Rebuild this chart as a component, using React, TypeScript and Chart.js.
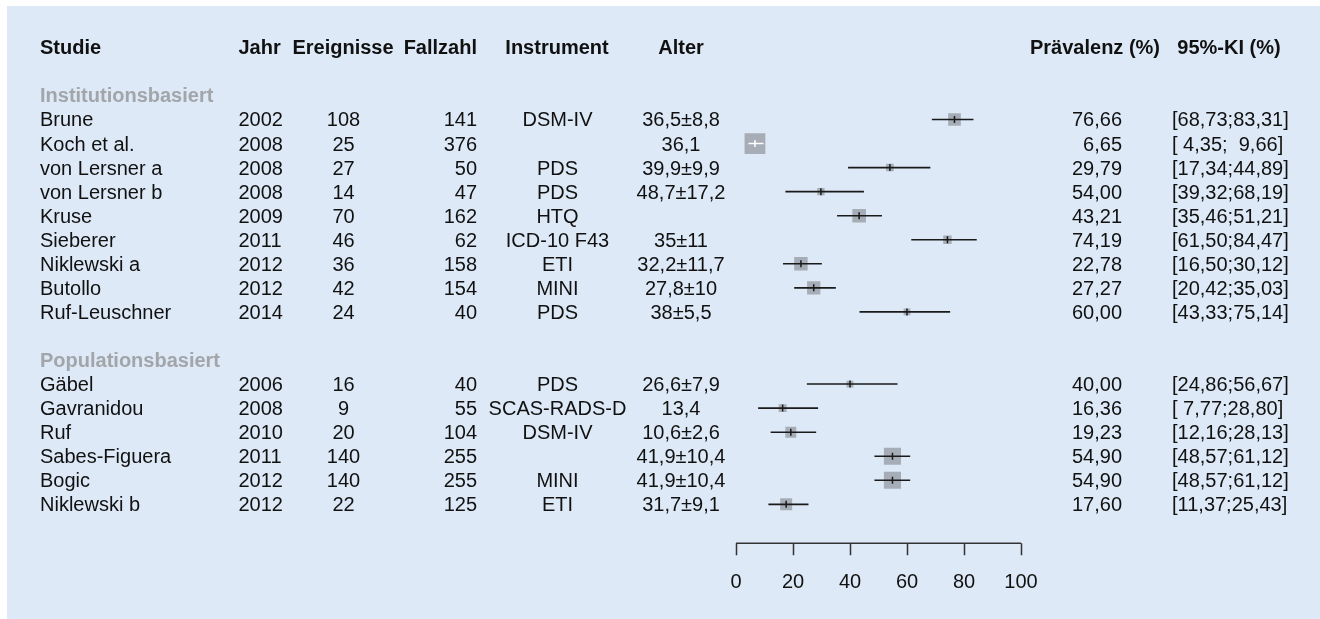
import React, { useEffect, useRef } from 'react';
import { Chart, registerables } from 'chart.js';
Chart.register(...registerables);

// ---------- data ----------
const headers = ['Studie', 'Jahr', 'Ereignisse', 'Fallzahl', 'Instrument', 'Alter', 'Prävalenz (%)', '95%-KI (%)'];
const groupLabels = ['Institutionsbasiert', 'Populationsbasiert'];
const groupSizes = [9, 6];

const studies = ['Brune', 'Koch et al.', 'von Lersner a', 'von Lersner b', 'Kruse', 'Sieberer', 'Niklewski a', 'Butollo', 'Ruf-Leuschner',
  'Gäbel', 'Gavranidou', 'Ruf', 'Sabes-Figuera', 'Bogic', 'Niklewski b'];
const years = [2002, 2008, 2008, 2008, 2009, 2011, 2012, 2012, 2014, 2006, 2008, 2010, 2011, 2012, 2012];
const events = [108, 25, 27, 14, 70, 46, 36, 42, 24, 16, 9, 20, 140, 140, 22];
const cases = [141, 376, 50, 47, 162, 62, 158, 154, 40, 40, 55, 104, 255, 255, 125];
const instruments = ['DSM-IV', '', 'PDS', 'PDS', 'HTQ', 'ICD-10 F43', 'ETI', 'MINI', 'PDS', 'PDS', 'SCAS-RADS-D', 'DSM-IV', '', 'MINI', 'ETI'];
const ages = ['36,5±8,8', '36,1', '39,9±9,9', '48,7±17,2', '', '35±11', '32,2±11,7', '27,8±10', '38±5,5',
  '26,6±7,9', '13,4', '10,6±2,6', '41,9±10,4', '41,9±10,4', '31,7±9,1'];
const prevalenceText = ['76,66', '6,65', '29,79', '54,00', '43,21', '74,19', '22,78', '27,27', '60,00',
  '40,00', '16,36', '19,23', '54,90', '54,90', '17,60'];
const ciText = ['[68,73;83,31]', '[ 4,35;  9,66]', '[17,34;44,89]', '[39,32;68,19]', '[35,46;51,21]', '[61,50;84,47]', '[16,50;30,12]', '[20,42;35,03]', '[43,33;75,14]',
  '[24,86;56,67]', '[ 7,77;28,80]', '[12,16;28,13]', '[48,57;61,12]', '[48,57;61,12]', '[11,37;25,43]'];

// plotted estimates (as drawn in the figure)
const estimates = [76.66, 6.65, 54.0, 29.79, 43.21, 74.19, 22.78, 27.27, 60.0, 40.0, 16.36, 19.23, 54.9, 54.9, 17.6];
const lower = [68.73, 4.35, 39.32, 17.34, 35.46, 61.5, 16.5, 20.42, 43.33, 24.86, 7.77, 12.16, 48.57, 48.57, 11.37];
const upper = [83.31, 9.66, 68.19, 44.89, 51.21, 84.47, 30.12, 35.03, 75.14, 56.67, 28.8, 28.13, 61.12, 61.12, 25.43];

const axisTicks = [0, 20, 40, 60, 80, 100];

// ---------- derived layout ----------
const studyRows: number[] = [];
const groupRows: number[] = [];
(() => {
  let cur = -1;
  let idx = 0;
  groupSizes.forEach((n) => {
    groupRows.push(cur);
    cur++;
    for (let i = 0; i < n; i++) {
      studyRows.push(cur);
      cur++;
      idx++;
    }
    cur++;
  });
})();
const HEADER_ROW = -3;

const PX_PER_UNIT = (1021 - 736) / 100;
const squareSide = cases.map((n) => 1.07 * Math.sqrt(n));
const inside = studies.map((_, i) => (upper[i] - lower[i]) * PX_PER_UNIT < squareSide[i]);

const FONT = '"Liberation Sans", Arial, Helvetica, sans-serif';

const colSpec: { x: number; align: CanvasTextAlign }[] = [
  { x: 40, align: 'left' },
  { x: 238.5, align: 'left' },
  { x: 343.5, align: 'center' },
  { x: 477, align: 'right' },
  { x: 557.5, align: 'center' },
  { x: 681, align: 'center' },
  { x: 1122, align: 'right' },
  { x: 1172, align: 'left' },
];
const headerSpec: { x: number; align: CanvasTextAlign }[] = [
  { x: 40, align: 'left' },
  { x: 238.5, align: 'left' },
  { x: 343, align: 'center' },
  { x: 477, align: 'right' },
  { x: 557, align: 'center' },
  { x: 681, align: 'center' },
  { x: 1095, align: 'center' },
  { x: 1229, align: 'center' },
];

const bgPlugin = {
  id: 'bgPanel',
  beforeDraw(chart: any) {
    const { ctx, width, height } = chart;
    ctx.save();
    ctx.fillStyle = '#ffffff';
    ctx.fillRect(0, 0, width, height);
    ctx.fillStyle = '#dde9f6';
    ctx.fillRect(7, 6, width - 7, height - 6);
    ctx.restore();
  },
};

const textPlugin = {
  id: 'forestText',
  afterDraw(chart: any) {
    const { ctx } = chart;
    const ys = chart.scales.y;
    const xs = chart.scales.x;
    const BL = 7;
    ctx.save();
    // header
    ctx.fillStyle = '#111';
    ctx.font = `bold 20px ${FONT}`;
    ctx.textBaseline = 'alphabetic';
    const hy = ys.getPixelForValue(HEADER_ROW) + BL;
    headers.forEach((h, i) => {
      ctx.textAlign = headerSpec[i].align;
      ctx.fillText(h, headerSpec[i].x, hy);
    });
    // group labels
    ctx.fillStyle = '#a2a5a9';
    ctx.textAlign = 'left';
    groupLabels.forEach((g, i) => {
      ctx.fillText(g, 40, ys.getPixelForValue(groupRows[i]) + BL);
    });
    // rows
    ctx.font = `20px ${FONT}`;
    ctx.fillStyle = '#111';
    studies.forEach((s, i) => {
      const y = ys.getPixelForValue(studyRows[i]) + BL;
      const vals = [s, String(years[i]), String(events[i]), String(cases[i]), instruments[i], ages[i], prevalenceText[i], ciText[i]];
      vals.forEach((v, c) => {
        if (!v) return;
        ctx.textAlign = colSpec[c].align;
        ctx.fillText(v, colSpec[c].x, y);
      });
    });
    // x axis
    const yb = chart.chartArea.bottom;
    ctx.strokeStyle = '#333';
    ctx.lineWidth = 1.5;
    ctx.beginPath();
    ctx.moveTo(xs.getPixelForValue(axisTicks[0]), yb);
    ctx.lineTo(xs.getPixelForValue(axisTicks[axisTicks.length - 1]), yb);
    axisTicks.forEach((t) => {
      const x = Math.round(xs.getPixelForValue(t)) + 0.5;
      ctx.moveTo(x, yb);
      ctx.lineTo(x, yb + 12);
    });
    ctx.stroke();
    ctx.textAlign = 'center';
    axisTicks.forEach((t) => {
      ctx.fillText(String(t), xs.getPixelForValue(t), yb + 44.5);
    });
    ctx.restore();
  },
};

export default function App() {
  const ref = useRef<HTMLCanvasElement | null>(null);
  useEffect(() => {
    document.body.style.margin = '0';
    const canvas = ref.current;
    if (!canvas) return;

    const squares = {
      type: 'scatter' as const,
      data: studies.map((_, i) => ({ x: estimates[i], y: studyRows[i] })),
      pointStyle: 'rect',
      pointRadius: squareSide.map((s) => s / Math.SQRT2),
      backgroundColor: '#a6adb6',
      borderWidth: 0,
      pointBorderWidth: 0,
      order: 3,
    };
    const whiskers = studies.map((_, i) => ({
      type: 'line' as const,
      data: [
        { x: lower[i], y: studyRows[i] },
        { x: upper[i], y: studyRows[i] },
      ],
      showLine: true,
      borderColor: inside[i] ? '#ffffff' : '#1a1a1a',
      borderWidth: 1.6,
      pointRadius: 0,
      order: 2,
    }));
    const centers = {
      type: 'scatter' as const,
      data: studies.map((_, i) => ({ x: estimates[i], y: studyRows[i] })),
      pointStyle: 'line',
      rotation: 90,
      pointRadius: 3.5,
      borderColor: studies.map((_, i) => (inside[i] ? '#ffffff' : '#1a1a1a')),
      pointBorderColor: studies.map((_, i) => (inside[i] ? '#ffffff' : '#1a1a1a')),
      borderWidth: 1.5,
      pointBorderWidth: 1.5,
      order: 1,
    };

    const chart = new Chart(canvas, {
      type: 'scatter',
      data: { datasets: [squares as any, ...(whiskers as any[]), centers as any] },
      options: {
        animation: false,
        responsive: false,
        devicePixelRatio: 1,
        events: [],
        layout: { padding: { left: 736, right: 1320 - 1021, top: 35.3, bottom: 619 - 543.3 } },
        plugins: { legend: { display: false }, tooltip: { enabled: false } },
        scales: {
          x: { type: 'linear', min: 0, max: 100, display: false },
          y: { type: 'linear', min: -3.5, max: 17.62, reverse: true, display: false },
        },
      },
      plugins: [bgPlugin, textPlugin],
    });
    return () => chart.destroy();
  }, []);
  return <canvas ref={ref} width={1320} height={619} style={{ display: 'block' }} />;
}
